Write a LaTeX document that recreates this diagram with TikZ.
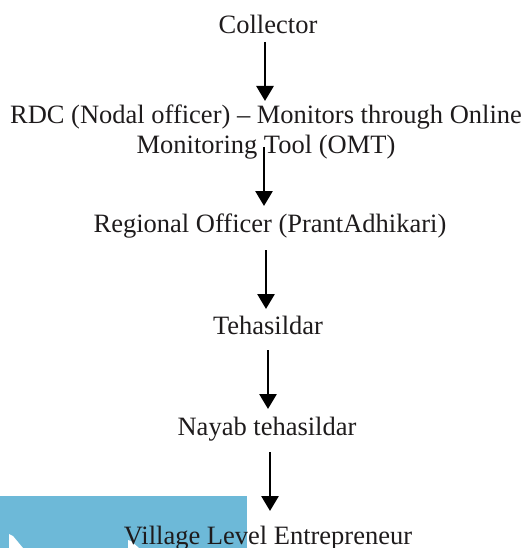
\documentclass[tikz,border=0pt]{standalone}
\usepackage{fontspec}
\setmainfont{Liberation Serif}
\usetikzlibrary{arrows.meta}
\definecolor{textgray}{RGB}{30,27,28}
\definecolor{panelblue}{RGB}{109,185,216}
\tikzset{
    chain diagram/.style = {>={Triangle[length=15pt, width=17pt]}},
    level/.style         = {text=textgray, inner sep=0pt, align=center,
                            font=\fontsize{26.5}{30}\selectfont},
    flow/.style          = {->, line width=2.8pt, draw=black},
    panel/.style         = {fill=panelblue, draw=none}
}

\begin{document}
\begin{tikzpicture}[chain diagram, x=1pt, y=-1pt]
\useasboundingbox (0,0) rectangle (527,548);

% Coloured panel behind the last level.
\fill[panel] (0,496) rectangle (247,548);
\fill[white] (9,534) -- (13,536) -- (23,548) -- (9,548) -- cycle;
\fill[white] (128,540) -- (131,541) -- (139,548) -- (128,548) -- cycle;

% Hierarchy levels, top to bottom.
\node[level] (collector) at (268,24) {Collector};
\node[level] (rdc) at (266,132) {RDC (Nodal officer) -- Monitors through Online\\Monitoring Tool (OMT)};
\node[level] (regional) at (270,226) {Regional Officer (PrantAdhikari)};
\node[level] (tehasildar) at (268,325) {Tehasildar};
\node[level] (nayab) at (267,429) {Nayab tehasildar};
\node[level] (vle) at (268,538) {Village Level Entrepreneur};

% Reporting arrows between the levels.
\foreach \i/\x/\ya/\yb in {1/265/42/101,2/264/147/206,3/266/250/309,
    4/268/350/409,5/270/452/511} {
    \coordinate (top-\i) at (\x,\ya);
    \coordinate (tip-\i) at (\x,\yb);
    \draw[flow] (top-\i) -- (tip-\i);
}

\end{tikzpicture}
\end{document}
